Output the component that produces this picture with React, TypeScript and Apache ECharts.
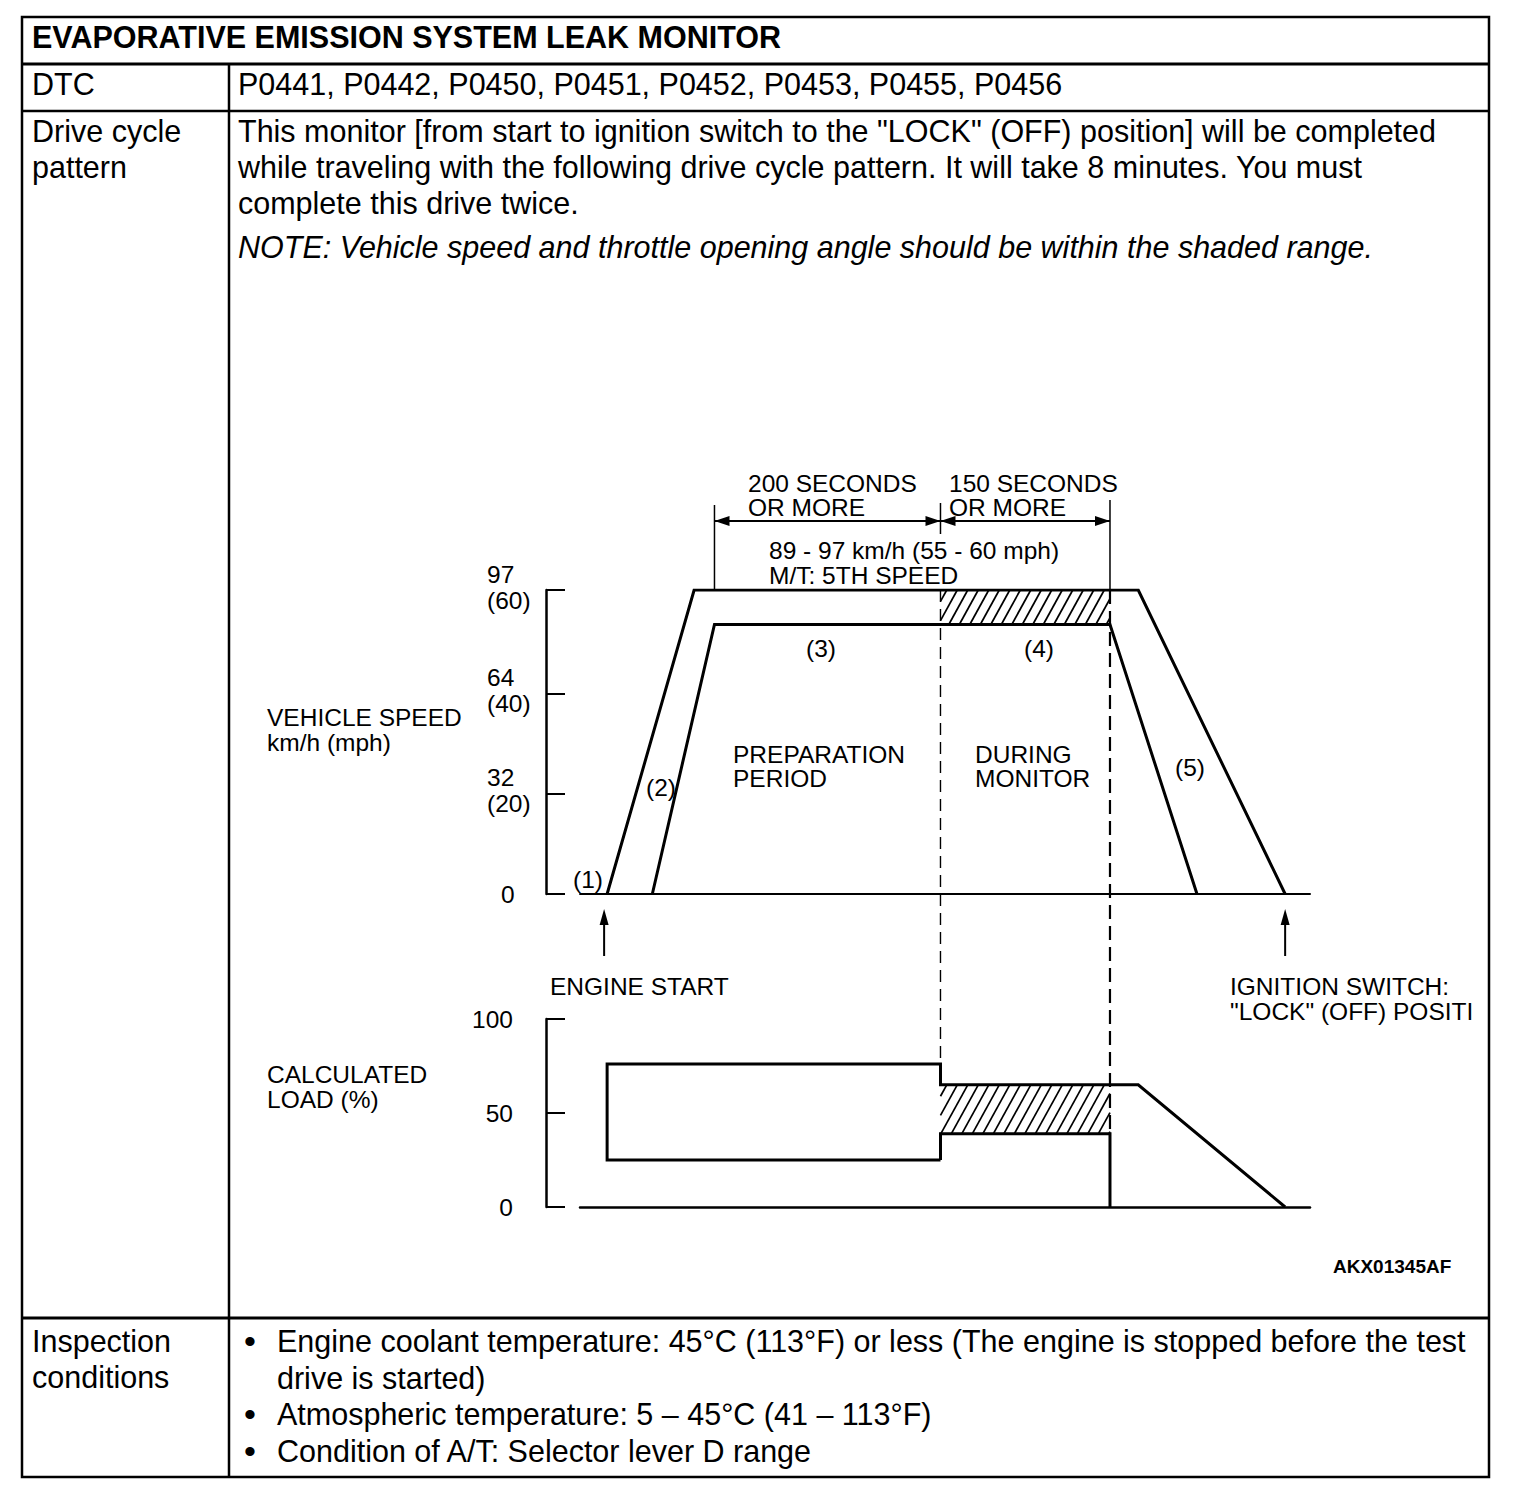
import React, { useEffect, useRef } from 'react';
import * as echarts from 'echarts';

// ---------- text content ----------
const TITLE = 'EVAPORATIVE EMISSION SYSTEM LEAK MONITOR';
const ROW_LABELS = ['DTC', 'Drive cycle', 'pattern', 'Inspection', 'conditions'];
const DTC_CODES = ['P0441', 'P0442', 'P0450', 'P0451', 'P0452', 'P0453', 'P0455', 'P0456'];
const DRIVE_TEXT = [
  'This monitor [from start to ignition switch to the "LOCK" (OFF) position] will be completed',
  'while traveling with the following drive cycle pattern. It will take 8 minutes. You must',
  'complete this drive twice.',
];
const NOTE_TEXT = 'NOTE: Vehicle speed and throttle opening angle should be within the shaded range.';
const INSPECTION_BULLETS = [
  ['Engine coolant temperature: 45°C (113°F) or less (The engine is stopped before the test', 'drive is started)'],
  ['Atmospheric temperature: 5 – 45°C (41 – 113°F)'],
  ['Condition of A/T: Selector lever D range'],
];
const FIGURE_ID = 'AKX01345AF';

// ---------- chart data (time in seconds from engine start) ----------
const TIME_MIN = -24;
const TIME_MAX = 622;
const ENGINE_START = 0;
const PREP_START = 95;
const MONITOR_START = 295;
const MONITOR_END = 445;
const IGNITION_OFF = 600;

const SPEED_MAX = 97;
const SPEED_TICKS = [0, 32, 64, 97];
const SPEED_MPH = [0, 20, 40, 60];
const SPEED_OUTER = [[0, 0], [77, 97], [470, 97], [600, 0]];
const SPEED_INNER = [[40, 0], [95, 86], [445, 86], [522, 0]];
const SPEED_BAND = [[295, 445, 86, 97]];

const LOAD_MAX = 100;
const LOAD_TICKS = [0, 50, 100];
const LOAD_UPPER = [[295, 25], [0, 25], [0, 76], [295, 76], [295, 65], [470, 65], [600, 0]];
const LOAD_LOWER = [[295, 25], [295, 39], [445, 39], [445, 0]];
const LOAD_BAND = [[295, 445, 39, 65]];

const FONT = '"Liberation Sans", Arial, Helvetica, sans-serif';
const BODY = `30.5px ${FONT}`;
const DIAG = `24.5px ${FONT}`;

function hatchRender(_params: any, api: any) {
  const x0v = api.value(0), x1v = api.value(1), lo = api.value(2), hi = api.value(3);
  const p0 = api.coord([x0v, hi]);
  const p1 = api.coord([x1v, lo]);
  const X0 = p0[0], Y0 = p0[1], X1 = p1[0], Y1 = p1[1];
  const s = 0.55;
  const step = 10.5;
  const children: any[] = [];
  const cMin = X0 + s * Y0;
  const cMax = X1 + s * Y1;
  for (let c = cMin + step * 0.6; c < cMax; c += step) {
    const ya = Math.max(Y0, (c - X1) / s);
    const yb = Math.min(Y1, (c - X0) / s);
    if (yb - ya < 0.5) continue;
    children.push({
      type: 'line',
      shape: { x1: c - s * yb, y1: yb, x2: c - s * ya, y2: ya },
      style: { stroke: '#000', lineWidth: 1.7 },
    });
  }
  return { type: 'group', children };
}

function txt(x: number, y: number, text: string, extra: any = {}) {
  return {
    type: 'text',
    x,
    y,
    silent: true,
    style: {
      text,
      fill: '#000',
      font: extra.font || DIAG,
      textAlign: extra.align || 'left',
      textVerticalAlign: 'middle',
      ...(extra.style || {}),
    },
  };
}

function hline(x1: number, x2: number, y: number, w = 2.5) {
  return { type: 'line', silent: true, shape: { x1, y1: y, x2, y2: y }, style: { stroke: '#000', lineWidth: w } };
}
function vline(x: number, y1: number, y2: number, w = 2.5, dash?: number[]) {
  return {
    type: 'line',
    silent: true,
    shape: { x1: x, y1, x2: x, y2 },
    style: { stroke: '#000', lineWidth: w, lineDash: dash },
  };
}
function arrowHead(tip: number[], dir: number[], len = 15, half = 5) {
  const [dx, dy] = dir;
  const bx = tip[0] - dx * len, by = tip[1] - dy * len;
  const nx = -dy, ny = dx;
  return {
    type: 'polygon',
    silent: true,
    shape: { points: [[tip[0], tip[1]], [bx + nx * half, by + ny * half], [bx - nx * half, by - ny * half]] },
    style: { fill: '#000' },
  };
}

export default function App() {
  const ref = useRef<HTMLDivElement>(null);
  useEffect(() => {
    if (!ref.current) return;
    const chart = echarts.init(ref.current, null, { renderer: 'svg' });
    const lineS = (data: number[][], g: number, w = 3) => ({
      type: 'line',
      xAxisIndex: g,
      yAxisIndex: g,
      data,
      symbol: 'none',
      silent: true,
      lineStyle: { color: '#000', width: w, join: 'miter' },
    });
    const xAx = (g: number, w: number) => ({
      gridIndex: g,
      type: 'value',
      min: TIME_MIN,
      max: TIME_MAX,
      axisLine: { show: true, onZero: false, lineStyle: { color: '#000', width: w } },
      axisTick: { show: false },
      axisLabel: { show: false },
      splitLine: { show: false },
    });
    chart.setOption({
      animation: false,
      backgroundColor: '#fff',
      grid: [
        { left: 580, top: 590, width: 730, height: 304 },
        { left: 580, top: 1019, width: 730, height: 188 },
      ],
      xAxis: [xAx(0, 2), xAx(1, 2.5)],
      yAxis: [
        {
          gridIndex: 0,
          type: 'value',
          min: 0,
          max: SPEED_MAX,
          offset: 34,
          axisLine: { show: true, onZero: false, lineStyle: { color: '#000', width: 2.5 } },
          axisTick: { show: true, inside: true, length: 19, customValues: SPEED_TICKS, lineStyle: { color: '#000', width: 2 } },
          splitLine: { show: false },
          axisLabel: {
            customValues: SPEED_TICKS,
            align: 'left',
            margin: 59,
            padding: [0, 0, 6, 0],
            formatter: (v: number) => {
              const i = SPEED_TICKS.indexOf(v);
              if (v === 0) return '{z|0}';
              return `{a|${v}}\n{a|(${SPEED_MPH[i]})}`;
            },
            rich: {
              a: { fontFamily: FONT, fontSize: 24.5, color: '#000', lineHeight: 26 },
              z: { fontFamily: FONT, fontSize: 24.5, color: '#000', lineHeight: 26, padding: [6, 0, 0, 14] },
            },
          },
        },
        {
          gridIndex: 1,
          type: 'value',
          min: 0,
          max: LOAD_MAX,
          offset: 34,
          axisLine: { show: true, onZero: false, lineStyle: { color: '#000', width: 2.5 } },
          axisTick: { show: true, inside: true, length: 19, customValues: LOAD_TICKS, lineStyle: { color: '#000', width: 2 } },
          splitLine: { show: false },
          axisLabel: {
            customValues: LOAD_TICKS,
            margin: 33,
            padding: [0, 0, 4, 0],
            fontFamily: FONT,
            fontSize: 24.5,
            color: '#000',
          },
        },
      ],
      series: [
        lineS(SPEED_OUTER, 0),
        lineS(SPEED_INNER, 0),
        { type: 'custom', xAxisIndex: 0, yAxisIndex: 0, data: SPEED_BAND, renderItem: hatchRender, encode: { x: [0, 1], y: [2, 3] }, silent: true },
        lineS(LOAD_UPPER, 1),
        lineS(LOAD_LOWER, 1),
        { type: 'custom', xAxisIndex: 1, yAxisIndex: 1, data: LOAD_BAND, renderItem: hatchRender, encode: { x: [0, 1], y: [2, 3] }, silent: true },
      ],
    });

    const px = (g: number, pt: number[]) => chart.convertToPixel({ gridIndex: g } as any, pt) as number[];
    const xPrep = px(0, [PREP_START, SPEED_MAX]);
    const xMonS = px(0, [MONITOR_START, SPEED_MAX]);
    const xMonE = px(0, [MONITOR_END, SPEED_MAX]);
    const monSLow = px(1, [MONITOR_START, LOAD_BAND[0][3]]);
    const monELow = px(1, [MONITOR_END, LOAD_BAND[0][2]]);
    const xEng = px(0, [ENGINE_START, 0]);
    const xIgn = px(0, [IGNITION_OFF, 0]);
    const dimY = 521;

    const graphics: any[] = [
      // table frame
      { type: 'rect', silent: true, shape: { x: 22, y: 17, width: 1467, height: 1460 }, style: { fill: 'none', stroke: '#000', lineWidth: 2.5 } },
      hline(22, 1489, 64, 3),
      hline(22, 1489, 111, 2.5),
      hline(22, 1489, 1318, 3),
      vline(229, 64, 1477, 2.5),
      txt(32, 37, TITLE, { font: `bold 30.5px ${FONT}` }),
      txt(32, 84, ROW_LABELS[0], { font: BODY }),
      txt(238, 84, DTC_CODES.join(', '), { font: BODY }),
      txt(32, 131, ROW_LABELS[1], { font: BODY }),
      txt(32, 167, ROW_LABELS[2], { font: BODY }),
      ...DRIVE_TEXT.map((t, i) => txt(238, 131 + 36 * i, t, { font: BODY })),
      txt(238, 247, NOTE_TEXT, { font: `italic 30.5px ${FONT}` }),
      txt(32, 1341, ROW_LABELS[3], { font: BODY }),
      txt(32, 1377, ROW_LABELS[4], { font: BODY }),
    ];
    let ly = 1341;
    INSPECTION_BULLETS.forEach((lines) => {
      graphics.push(txt(244, ly, '•', { font: `34px ${FONT}` }));
      lines.forEach((l) => {
        graphics.push(txt(277, ly, l, { font: BODY }));
        ly += 36.5;
      });
    });

    // dashed boundaries of the monitor window
    graphics.push(vline(xMonS[0], xMonS[1], monSLow[1], 1.4, [12, 7]));
    graphics.push(vline(xMonE[0], xMonE[1], monELow[1], 2.2, [14, 7]));

    // dimension lines
    graphics.push(vline(xPrep[0], 505, xPrep[1], 1.5));
    graphics.push(vline(xMonE[0], 500, xMonE[1], 1.5));
    graphics.push(vline(xMonS[0], 503, 534, 1.5));
    graphics.push(hline(xPrep[0], xMonE[0], dimY, 2));
    graphics.push(arrowHead([xPrep[0], dimY], [-1, 0]));
    graphics.push(arrowHead([xMonS[0], dimY], [1, 0]));
    graphics.push(arrowHead([xMonS[0], dimY], [-1, 0]));
    graphics.push(arrowHead([xMonE[0], dimY], [1, 0]));

    // engine start / ignition off arrows
    [xEng[0] - 3, xIgn[0]].forEach((x) => {
      graphics.push(vline(x, 956, 920, 2));
      graphics.push(arrowHead([x, 909], [0, -1], 16, 4.5));
    });

    // annotations
    graphics.push(txt(748, 483, '200 SECONDS'));
    graphics.push(txt(748, 507, 'OR MORE'));
    graphics.push(txt(949, 483, '150 SECONDS'));
    graphics.push(txt(949, 507, 'OR MORE'));
    graphics.push(txt(769, 550, '89 - 97 km/h (55 - 60 mph)'));
    graphics.push(txt(769, 575, 'M/T: 5TH SPEED'));
    graphics.push(txt(821, 648, '(3)', { align: 'center' }));
    graphics.push(txt(1039, 648, '(4)', { align: 'center' }));
    graphics.push(txt(661, 787, '(2)', { align: 'center' }));
    graphics.push(txt(588, 879, '(1)', { align: 'center' }));
    graphics.push(txt(1190, 767, '(5)', { align: 'center' }));
    graphics.push(txt(733, 754, 'PREPARATION'));
    graphics.push(txt(733, 778, 'PERIOD'));
    graphics.push(txt(975, 754, 'DURING'));
    graphics.push(txt(975, 778, 'MONITOR'));
    graphics.push(txt(267, 717, 'VEHICLE SPEED'));
    graphics.push(txt(267, 742, 'km/h (mph)'));
    graphics.push(txt(550, 986, 'ENGINE START'));
    graphics.push(txt(1230, 986, 'IGNITION SWITCH:'));
    graphics.push(
      txt(1230, 1011, '"LOCK" (OFF) POSITION', {
        style: { width: 252, overflow: 'truncate', ellipsis: '' },
      })
    );
    graphics.push(txt(267, 1074, 'CALCULATED'));
    graphics.push(txt(267, 1099, 'LOAD (%)'));
    graphics.push(txt(1333, 1266, FIGURE_ID, { font: `bold 19px ${FONT}` }));

    chart.setOption({ graphic: graphics });
    return () => chart.dispose();
  }, []);
  return <div ref={ref} style={{ position: 'absolute', left: 0, top: 0, width: 1536, height: 1502 }} />;
}
